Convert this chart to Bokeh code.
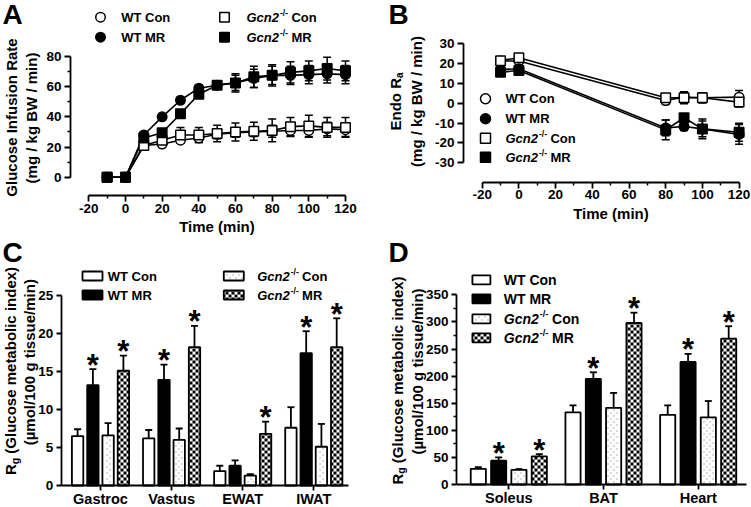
import math
from bokeh.plotting import figure
from bokeh.models import (ColumnDataSource, Range1d, FixedTicker, Whisker, TeeHead, LinearAxis)
from bokeh.layouts import column, row
from bokeh.embed import file_html
from bokeh.resources import INLINE
from bokeh.core.properties import value

FONT = "Liberation Sans"

# ---------------- data ----------------
# Panel A: glucose infusion rate
time_a = [-10, 0, 10, 20, 30, 40, 50, 60, 70, 80, 90, 100, 110, 120]
gir_wt_con = [0, 0, 21, 22, 24.5, 26, 28.5, 29.5, 30, 30.5, 31, 31, 32, 31.5]
gir_wt_con_err = [0, 0, 1.5, 1.5, 2, 3, 3, 3, 3, 4, 4, 4.5, 4.5, 4.5]
gir_wt_mr = [0, 0, 28, 40, 51, 59, 61, 62.5, 65.5, 67.5, 67.5, 68, 68.5, 68]
gir_wt_mr_err = [0, 0, 1.5, 1.5, 2, 2, 2.5, 5, 6, 6, 6, 6, 6, 6]
gir_ko_con = [0, 0, 21, 24.5, 28, 28, 29, 30, 30.5, 31, 33.5, 34, 33, 33]
gir_ko_con_err = [0, 0, 1.5, 2, 5, 5, 5.5, 6, 6, 7.5, 6, 7, 6.5, 6.5]
gir_ko_mr = [0, 0, 26, 29.5, 42, 55, 61, 62.5, 66.5, 67.5, 69.5, 70.5, 72, 70.5]
gir_ko_mr_err = [0, 0, 1.5, 2, 2, 2, 2.5, 6, 7, 7, 7, 6.5, 7.5, 6.5]
a_xticks = [-20, 0, 20, 40, 60, 80, 100, 120]
a_xminor = [-10, 10, 30, 50, 70, 90, 110]
a_yticks = [0, 20, 40, 60, 80]
a_yminor = [10, 30, 50, 70]

# Panel B: endogenous Ra
time_b = [-10, 0, 80, 90, 100, 120]
ra_wt_con = [21.3, 21.3, 1.4, 3.1, 2.8, 3.1]
ra_wt_con_err = [2, 2, 2, 2.5, 2.5, 3.3]
ra_wt_mr = [17, 17.4, -12.4, -11.7, -12.9, -15.7]
ra_wt_mr_err = [2, 2, 4, 2, 5, 5]
ra_ko_con = [21.5, 23, 2.8, 2.8, 2.8, 0.6]
ra_ko_con_err = [2, 2, 2, 3, 2.5, 2.5]
ra_ko_mr = [15.7, 16.5, -13.4, -7.3, -12.9, -14.6]
ra_ko_mr_err = [2, 2, 5, 2, 4, 4.5]
b_xticks = [-20, 0, 20, 40, 60, 80, 100, 120]
b_xminor = [-10, 10, 30, 50, 70, 90, 110]
b_yticks = [-30, -20, -10, 0, 10, 20, 30]

# Panel C: Rg in muscle / WAT
tissues_c = ["Gastroc", "Vastus", "EWAT", "IWAT"]
c_wt_con = [6.5, 6.2, 1.9, 7.6]
c_wt_con_err = [0.9, 1.1, 0.7, 2.7]
c_wt_mr = [13.2, 13.9, 2.6, 17.4]
c_wt_mr_err = [2.1, 2.0, 0.7, 2.9]
c_ko_con = [6.6, 6.0, 1.3, 5.1]
c_ko_con_err = [1.6, 1.5, 0.2, 3.0]
c_ko_mr = [15.1, 18.2, 6.8, 18.2]
c_ko_mr_err = [2.0, 2.8, 1.6, 3.8]
c_wt_mr_sig = [1, 1, 0, 1]
c_ko_mr_sig = [1, 1, 1, 1]
c_yticks = [0, 5, 10, 15, 20, 25]

# Panel D: Rg in soleus / BAT / heart
tissues_d = ["Soleus", "BAT", "Heart"]
d_wt_con = [29, 133, 128.5]
d_wt_con_err = [3, 13, 17.5]
d_wt_mr = [44, 195, 226]
d_wt_mr_err = [6, 12, 15]
d_ko_con = [27, 141.5, 124]
d_ko_con_err = [1.5, 27.5, 30]
d_ko_mr = [52, 298, 269]
d_ko_mr_err = [4, 19, 23]
d_wt_mr_sig = [1, 1, 1]
d_ko_mr_sig = [1, 1, 1]
d_yticks = [0, 50, 100, 150, 200, 250, 300, 350]
d_yminor = [25, 75, 125, 175, 225, 275, 325]


# ---------------- helpers ----------------
class Panel:
    """Figure whose frame covers its whole canvas.  Layout positions are given in
    page pixels; (ox, oy) is the canvas origin on the page; data 0 lies at page
    (x0, y0) and bx, by are pixels per data unit."""

    def __init__(self, w, h, ox, oy, x0, bx, y0, by):
        self.ox, self.oy = ox, oy
        self.ax, self.bx, self.ay, self.by = x0 - ox, bx, y0 - oy, by
        xr = ((0 - self.ax) / bx, (w - self.ax) / bx)
        yr = ((self.ay - h) / by, self.ay / by)
        p = figure(width=w, height=h, x_range=Range1d(*xr), y_range=Range1d(*yr),
                   output_backend="svg", toolbar_location=None,
                   x_axis_type=None, y_axis_type=None, min_border=0)
        p.grid.visible = False
        p.outline_line_color = None
        p.background_fill_color = "white"
        p.border_fill_color = "white"
        self.p = p

    # page px -> data
    def dx(self, px):
        return (px - self.ox - self.ax) / self.bx

    def dy(self, py):
        return (self.ay - (py - self.oy)) / self.by

    # data -> page px
    def px(self, x):
        return self.ox + self.ax + self.bx * x

    def py(self, y):
        return self.oy + self.ay - self.by * y

    def txt(self, px, py, s, size, style="bold", align="left", baseline="middle", angle=0.0):
        self.p.text(x=[self.dx(px)], y=[self.dy(py)], text=[s], text_font=value(FONT),
                    text_font_style=style, text_font_size=size, text_align=align,
                    text_baseline=baseline, angle=angle, text_color="black")


def style_axis(ax, tick_out=6, label_size="13.5px", standoff=2):
    ax.axis_line_width = 1.8
    ax.axis_line_color = "black"
    ax.major_tick_line_width = 1.8
    ax.major_tick_line_color = "black"
    ax.minor_tick_line_width = 1.5
    ax.minor_tick_line_color = "black"
    ax.major_tick_in = 0
    ax.major_tick_out = tick_out
    ax.minor_tick_in = 0
    ax.minor_tick_out = 3
    ax.major_label_text_font = FONT
    ax.major_label_text_font_style = "bold"
    ax.major_label_text_font_size = label_size
    ax.major_label_text_color = "black"
    ax.major_label_standoff = standoff
    ax.axis_label_text_font = FONT
    ax.axis_label_text_font_style = "bold"
    ax.axis_label_text_font_size = "15px"
    ax.axis_label_text_color = "black"
    ax.axis_label_standoff = 2


def add_axes(P, x_at, y_at, xticks, xminor, xbounds, yticks, yminor, ybounds,
             xlabel=None, xoverrides=None, tick_out=6, xlabel_size="13.5px", xstandoff=2):
    xa = LinearAxis(fixed_location=P.dy(x_at),
                    ticker=FixedTicker(ticks=xticks, minor_ticks=xminor), bounds=xbounds)
    style_axis(xa, tick_out, xlabel_size, xstandoff)
    xa.major_label_overrides = xoverrides if xoverrides is not None else {t: str(t) for t in xticks}
    if xlabel:
        xa.axis_label = xlabel
    P.p.add_layout(xa, "below")
    ya = LinearAxis(fixed_location=P.dx(y_at),
                    ticker=FixedTicker(ticks=yticks, minor_ticks=yminor), bounds=ybounds)
    style_axis(ya, tick_out, "13.5px", 3)
    ya.major_label_overrides = {t: str(t) for t in yticks}
    P.p.add_layout(ya, "left")


def gcn_text(P, px, py, suffix, size):
    w_g = 2.501 * size + 1.0
    sup = round(size * 0.65, 1)
    P.txt(px, py, "Gcn2", f"{size}px", "bold italic")
    P.txt(px + w_g, py - size * 0.32, "-/-", f"{sup}px", "bold")
    P.txt(px + w_g + 0.944 * sup + 0.26 * size, py, suffix, f"{size}px", "bold")


def rot_title(P, px, py_center, parts):
    # parts: (text, size, style, dx_px, advance_em, lead_em)
    total = sum(sz * (w + lead) for (_, sz, _, _, w, lead) in parts)
    py = py_center + total / 2.0
    for (s, sz, st, dxp, w, lead) in parts:
        py -= sz * lead
        P.txt(px + dxp, py, s, f"{sz}px", st, align="left", baseline="middle",
              angle=math.pi / 2)
        py -= sz * w


def draw_lines(P, t, series, size):
    p = P.p
    for vals, errs, mk, fc in series:
        keep = [i for i, e in enumerate(errs) if e > 0]
        src = ColumnDataSource(dict(x=[t[i] for i in keep],
                                    lo=[vals[i] - errs[i] for i in keep],
                                    hi=[vals[i] + errs[i] for i in keep]))
        p.add_layout(Whisker(source=src, base="x", lower="lo", upper="hi",
                             line_width=1.5, line_color="black",
                             upper_head=TeeHead(size=8, line_width=1.5),
                             lower_head=TeeHead(size=8, line_width=1.5)))
    for vals, errs, mk, fc in series:
        p.line(t, vals, line_color="black", line_width=1.6)
    for vals, errs, mk, fc in series:
        p.scatter(t, vals, marker=mk, size=size, fill_color=fc,
                  line_color="black", line_width=1.5)


# ---- fill patterns for the knockout bars (computed on a pixel grid) ----
def pattern_quads(P, L, R, T, B, kind):
    q = dict(left=[], right=[], top=[], bottom=[])
    cell = 3.0
    i0, i1 = math.floor(L / cell), math.ceil(R / cell)
    j0, j1 = math.floor(T / cell), math.ceil(B / cell)
    for i in range(i0, i1):
        for j in range(j0, j1):
            if (i + j) % 2:
                continue
            if kind == "checker":
                l, r = max(L, i * cell), min(R, (i + 1) * cell)
                t, b = max(T, j * cell), min(B, (j + 1) * cell)
            else:
                cx, cy = i * cell + 1.5, j * cell + 1.5
                l, r, t, b = cx - 0.6, cx + 0.6, cy - 0.6, cy + 0.6
                if l < L + 1 or r > R - 1 or t < T + 1 or b > B - 1:
                    continue
            if r > l and b > t:
                q["left"].append(P.dx(l))
                q["right"].append(P.dx(r))
                q["top"].append(P.dy(t))
                q["bottom"].append(P.dy(b))
    return q


def add_pattern(P, rects_px, kind):
    q = dict(left=[], right=[], top=[], bottom=[])
    for (L, R, T, B) in rects_px:
        qq = pattern_quads(P, L, R, T, B, kind)
        for k in q:
            q[k] += qq[k]
    color = "black" if kind == "checker" else "#808080"
    P.p.quad(source=ColumnDataSource(q), left="left", right="right", top="top",
             bottom="bottom", fill_color=color, line_color=None)


FILLS = ["white", "black", "white", "white"]
PATTERNS = [None, None, "dots", "checker"]
OFFSETS = [-0.322, -0.107, 0.107, 0.322]
BAR_W = 0.16


def draw_bars(P, groups, sigs):
    p = P.p
    for k, (vals, errs) in enumerate(groups):
        xs = [i + OFFSETS[k] for i in range(len(vals))]
        src = ColumnDataSource(dict(x=xs, top=vals, hi=[v + e for v, e in zip(vals, errs)]))
        p.add_layout(Whisker(source=src, base="x", lower="top", upper="hi",
                             line_width=1.8, line_color="black", lower_head=None,
                             upper_head=TeeHead(size=7, line_width=1.8)))
        p.vbar(x="x", top="top", bottom=0, width=BAR_W, source=src,
               fill_color=FILLS[k], line_color=None)
        if PATTERNS[k]:
            rects = [(P.px(x - BAR_W / 2), P.px(x + BAR_W / 2), P.py(v), P.py(0))
                     for x, v in zip(xs, vals)]
            add_pattern(P, rects, PATTERNS[k])
        p.vbar(x="x", top="top", bottom=0, width=BAR_W, source=src,
               fill_color=None, line_color="black", line_width=1.8)
    for k, sig in sigs.items():
        vals, errs = groups[k]
        sx = [i + OFFSETS[k] for i in range(len(vals)) if sig[i]]
        sy = [vals[i] + errs[i] + 4.0 / P.by for i in range(len(vals)) if sig[i]]
        p.text(x=sx, y=sy, text=["*"] * len(sx), text_font=value(FONT),
               text_font_style="bold", text_font_size="31px", text_align="center",
               text_baseline="alphabetic", text_color="black")


def legend_patch(P, px, py, k, w, h):
    L, R, T, B = px - w / 2, px + w / 2, py - h / 2, py + h / 2
    P.p.quad(left=[P.dx(L)], right=[P.dx(R)], top=[P.dy(T)], bottom=[P.dy(B)],
             fill_color=FILLS[k], line_color=None)
    if PATTERNS[k]:
        add_pattern(P, [(L, R, T, B)], PATTERNS[k])
    P.p.quad(left=[P.dx(L)], right=[P.dx(R)], top=[P.dy(T)], bottom=[P.dy(B)],
             fill_color=None, line_color="black", line_width=1.8)


ROW1_H = 238
ROW2_H = 507 - ROW1_H

# ---------------- Panel A ----------------
A = Panel(375, ROW1_H, 0, 0, x0=124.97, bx=1.8336, y0=176.7, by=1.50875)
add_axes(A, x_at=195, y_at=70,
         xticks=a_xticks, xminor=a_xminor, xbounds=(a_xticks[0], a_xticks[-1]),
         yticks=a_yticks, yminor=a_yminor, ybounds=(a_yticks[0], a_yticks[-1]),
         xlabel="Time (min)")
series_a = [(gir_wt_con, gir_wt_con_err, "circle", "white"),
            (gir_wt_mr, gir_wt_mr_err, "circle", "black"),
            (gir_ko_con, gir_ko_con_err, "square", "white"),
            (gir_ko_mr, gir_ko_mr_err, "square", "black")]
draw_lines(A, time_a, series_a, 9.5)

for mk, fc, mx, my in [("circle", "white", 100, 16.7), ("circle", "black", 100, 36.7),
                       ("square", "white", 224, 16.7), ("square", "black", 224, 36.7)]:
    A.p.scatter([A.dx(mx)], [A.dy(my)], marker=mk, size=9.5, fill_color=fc,
                line_color="black", line_width=1.5)
A.txt(120.7, 16.7, "WT Con", "13px")
A.txt(120.7, 36.7, "WT MR", "13px")
gcn_text(A, 246, 16.7, "Con", 13)
gcn_text(A, 246, 36.7, "MR", 13)

A.txt(12, 14, "A", "28px", align="center")
A.txt(11, 117, "Glucose Infusion Rate", "15px", align="center", angle=math.pi / 2)
A.txt(31, 117.5, "(mg / kg BW / min)", "15px", align="center", angle=math.pi / 2)

# ---------------- Panel B ----------------
B = Panel(376, ROW1_H, 375, 0, x0=518.4, bx=1.835, y0=102.8, by=1.9833)
add_axes(B, x_at=181.7, y_at=463,
         xticks=b_xticks, xminor=b_xminor, xbounds=(b_xticks[0], b_xticks[-1]),
         yticks=b_yticks, yminor=[], ybounds=(b_yticks[0], b_yticks[-1]),
         xlabel="Time (min)")
series_b = [(ra_wt_con, ra_wt_con_err, "circle", "white"),
            (ra_wt_mr, ra_wt_mr_err, "circle", "black"),
            (ra_ko_con, ra_ko_con_err, "square", "white"),
            (ra_ko_mr, ra_ko_mr_err, "square", "black")]
draw_lines(B, time_b, series_b, 9.5)

for mk, fc, my in [("circle", "white", 98.3), ("circle", "black", 118.3),
                   ("square", "white", 137.7), ("square", "black", 156.7)]:
    B.p.scatter([B.dx(485)], [B.dy(my)], marker=mk, size=10, fill_color=fc,
                line_color="black", line_width=1.5)
B.txt(505, 98.3, "WT Con", "13px")
B.txt(505, 118.3, "WT MR", "13px")
gcn_text(B, 505, 137.7, "Con", 13)
gcn_text(B, 505, 156.7, "MR", 13)

B.txt(398, 14, "B", "28px", align="center")
rot_title(B, 395, 101, [("Endo R", 15, "bold", 0, 3.5, 0), ("a", 10, "bold", 4, 0.556, 0)])
B.txt(415.5, 101, "(mg / kg BW / min)", "15px", align="center", angle=math.pi / 2)

RG_PARTS = [("R", 15, "bold", 0, 0.722, 0), ("g", 10.5, "bold", 4, 0.611, 0),
            ("(Glucose metabolic index)", 15, "bold", 0, 12.448, 0.278)]

# ---------------- Panel C ----------------
C = Panel(375, ROW2_H, 0, ROW1_H, x0=100, bx=71.1, y0=485, by=7.6)
add_axes(C, x_at=485, y_at=60.7,
         xticks=list(range(len(tissues_c))), xminor=[],
         xbounds=(C.dx(60.7), C.dx(348)),
         yticks=c_yticks, yminor=[], ybounds=(c_yticks[0], c_yticks[-1]),
         xoverrides={i: t for i, t in enumerate(tissues_c)}, tick_out=5,
         xlabel_size="14.5px", xstandoff=0)
draw_bars(C, [(c_wt_con, c_wt_con_err), (c_wt_mr, c_wt_mr_err),
              (c_ko_con, c_ko_con_err), (c_ko_mr, c_ko_mr_err)],
          {1: c_wt_mr_sig, 3: c_ko_mr_sig})
legend_patch(C, 92, 275.5, 0, 20, 9)
legend_patch(C, 92, 294.5, 1, 20, 9)
legend_patch(C, 233.3, 275.5, 2, 20, 9)
legend_patch(C, 233.3, 294.5, 3, 20, 9)
C.txt(107.3, 275.5, "WT Con", "13px")
C.txt(107.3, 294.5, "WT MR", "13px")
gcn_text(C, 256.7, 275.5, "Con", 13)
gcn_text(C, 256.7, 294.5, "MR", 13)

C.txt(12, 252, "C", "28px", align="center")
rot_title(C, 10, 370.5, RG_PARTS)
C.txt(29, 361.7, "(\u00b5mol/100 g tissue/min)", "15px", align="center", angle=math.pi / 2)

# ---------------- Panel D ----------------
D = Panel(376, ROW2_H, 375, ROW1_H, x0=508.3, bx=94.7, y0=484, by=0.542)
add_axes(D, x_at=484, y_at=456,
         xticks=list(range(len(tissues_d))), xminor=[],
         xbounds=(D.dx(456), D.dx(745.7)),
         yticks=d_yticks, yminor=d_yminor, ybounds=(d_yticks[0], d_yticks[-1]),
         xoverrides={i: t for i, t in enumerate(tissues_d)}, tick_out=5,
         xlabel_size="14.5px", xstandoff=0)
draw_bars(D, [(d_wt_con, d_wt_con_err), (d_wt_mr, d_wt_mr_err),
              (d_ko_con, d_ko_con_err), (d_ko_mr, d_ko_mr_err)],
          {1: d_wt_mr_sig, 3: d_ko_mr_sig})
for k, my in enumerate([279.3, 298.3, 318.3, 337.3]):
    legend_patch(D, 480.9, my, k, 18, 9)
D.txt(503.3, 279.3, "WT Con", "14px")
D.txt(503.3, 298.3, "WT MR", "14px")
gcn_text(D, 503.3, 318.3, "Con", 14)
gcn_text(D, 503.3, 337.3, "MR", 14)

D.txt(398, 252, "D", "28px", align="center")
rot_title(D, 396.5, 380, RG_PARTS)
D.txt(416.5, 371, "(\u00b5mol/100 g tissue/min)", "15px", align="center", angle=math.pi / 2)

layout = column(row(A.p, B.p), row(C.p, D.p))
open("out.html", "w").write(file_html(layout, INLINE))
